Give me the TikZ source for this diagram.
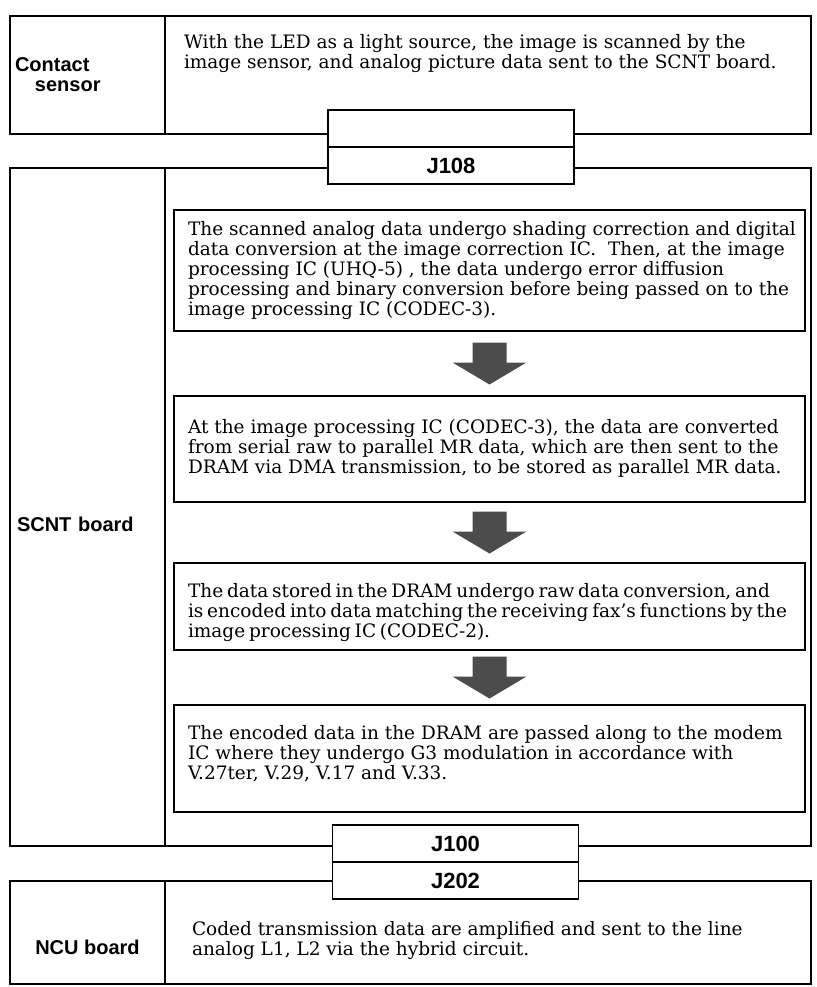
\documentclass[tikz,border=0pt]{standalone}
\usepackage{fontspec}
\setmainfont{DejaVu Serif}
\setsansfont{Liberation Sans}
\usetikzlibrary{positioning,calc}

\newcommand{\bodysize}{\fontsize{18.5pt}{20pt}\selectfont}
% height, width, gap above first line, text
\newcommand{\boxtext}[4]{%
  \begin{minipage}[c][#1][t]{#2}\raggedright\rightskip=-40pt plus 1fil\bodysize\vspace*{#3}#4\end{minipage}}

\begin{document}
\begin{tikzpicture}[x=1pt, y=-1pt,
    cell/.style={draw, line width=1.6pt, anchor=north west, inner sep=0pt, outer sep=0pt, minimum height=#1},
    boardlabel/.style={cell=#1, minimum width=155, font=\sffamily\bfseries\fontsize{20pt}{20pt}\selectfont},
    stagebox/.style={draw, line width=1.3pt, anchor=north west, inner sep=0pt, outer sep=0pt, minimum width=631, minimum height=#1},
    jack/.style={draw, fill=white, line width=1.3pt, inner sep=0pt, outer sep=0pt, minimum width=246, minimum height=37, font=\sffamily\bfseries\fontsize{22pt}{22pt}\selectfont},
    flowarrow/.style={fill=black!70}]
  \useasboundingbox (0,0) rectangle (816,987);

  % boards
  \node[boardlabel=118, align=left, text width=145pt] (contact) at (10,16) {Contact\\\hspace*{20pt}sensor};
  \node[cell=118, minimum width=646, right=0pt of contact] (contactdesc) {\boxtext{118pt}{608pt}{18pt}{%
    With the LED as a light source, the image is scanned by the\\
    image sensor, and analog picture data sent to the SCNT board.}};

  \node[boardlabel=678, align=left, text width=141pt, text height=48pt, text depth=0pt, below=34pt of contact] (scnt) {SCNT board};
  \node[cell=678, minimum width=646, right=0pt of scnt] (scntbody) {};

  \node[boardlabel=103, align=center, text height=43pt, text depth=0pt, below=35pt of scnt] (ncu) {NCU board};
  \node[cell=103, minimum width=646, right=0pt of ncu] (ncudesc) {\boxtext{103pt}{592pt}{40pt}{%
    Coded transmission data are amplified and sent to the line\\
    analog L1, L2 via the hybrid circuit.}};

  % steps on the SCNT board
  \node[stagebox=121] (shade) at (174,210) {\boxtext{121pt}{603pt}{11pt}{%
    The scanned analog data undergo shading correction and digital\\
    data conversion at the image correction IC.\ \ Then, at the image\\
    processing IC (UHQ-5) , the data undergo error diffusion\\
    processing and binary conversion before being passed on to the\\
    image processing IC (CODEC-3).}};
  \node[stagebox=106, below=65pt of shade] (dma) {\boxtext{106pt}{603pt}{23pt}{%
    At the image processing IC (CODEC-3), the data are converted\\
    from serial raw to parallel MR data, which are then sent to the\\
    DRAM via DMA transmission, to be stored as parallel MR data.}};
  \node[stagebox=87, below=61pt of dma] (encode) {\boxtext{87pt}{603pt}{20pt}{%
    \spaceskip=0.65\fontdimen2\font
    The data stored in the DRAM undergo raw data conversion, and\\
    is encoded into data matching the receiving fax's functions by the\\
    image processing IC (CODEC-2).}};
  \node[stagebox=107, below=55pt of encode] (modem) {\boxtext{107pt}{603pt}{20pt}{%
    The encoded data in the DRAM are passed along to the modem\\
    IC where they undergo G3 modulation in accordance with\\
    V.27ter, V.29, V.17 and V.33.}};

  \foreach \a/\b in {shade/dma, dma/encode, encode/modem}
    \fill[flowarrow] ($(\a.south)!.5!(\b.north)$) ++(-17,-21) -- ++(34,0) -- ++(0,20)
      -- ++(20,0) -- ++(-37,22) -- ++(-37,-22) -- ++(20,0) -- cycle;

  % connectors
  \node[jack] (j108) at (451,165.5) {J108};
  \node[jack, above=0pt of j108] (sensorplug) {};
  \node[jack] (j100) at (455.5,843.5) {J100};
  \node[jack, below=0pt of j100] (j202) {J202};
\end{tikzpicture}
\end{document}
